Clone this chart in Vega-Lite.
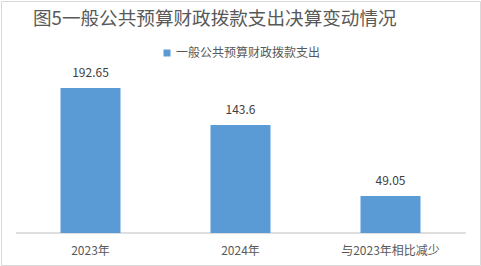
{
  "$schema": "https://vega.github.io/schema/vega-lite/v6.json",
  "width": 481,
  "height": 266,
  "autosize": {"type": "fit", "contains": "padding"},
  "padding": 1,
  "background": "white",
  "config": {
    "font": "Noto Sans CJK SC",
    "view": {"stroke": "#D9D9D9", "strokeWidth": 1}
  },
  "title": {
    "text": "图5一般公共预算财政拨款支出决算变动情况",
    "anchor": "start",
    "frame": "group",
    "orient": "top",
    "baseline": "top",
    "offset": -28,
    "dx": 32,
    "fontSize": 18.6,
    "fontWeight": "normal",
    "color": "#595959"
  },
  "data": {
    "values": [
      {"category": "2023年", "value": 192.65, "label": "192.65", "series": "一般公共预算财政拨款支出"},
      {"category": "2024年", "value": 143.6, "label": "143.6", "series": "一般公共预算财政拨款支出"},
      {"category": "与2023年相比减少", "value": 49.05, "label": "49.05", "series": "一般公共预算财政拨款支出"}
    ]
  },
  "encoding": {
    "x": {
      "field": "category",
      "type": "nominal",
      "sort": null,
      "scale": {"domain": ["2023年", "2024年", "与2023年相比减少"], "paddingInner": 0.6, "paddingOuter": 0.3967},
      "axis": {
        "title": null,
        "orient": "bottom",
        "domain": false,
        "ticks": false,
        "labelAngle": 0,
        "labelPadding": 0,
        "offset": -20,
        "labelFontSize": 12,
        "labelColor": "#595959"
      }
    }
  },
  "layer": [
    {
      "mark": {"type": "rule", "color": "#D9D9D9", "strokeWidth": 1},
      "encoding": {
        "y": {"datum": 0, "type": "quantitative", "scale": {"domain": [-42.51, 308.23], "nice": false, "zero": false}, "axis": null},
        "x": {"datum": "2023年", "bandPosition": -0.74},
        "x2": {"datum": "与2023年相比减少", "bandPosition": 1.75}
      }
    },
    {
      "mark": {"type": "bar"},
      "encoding": {
        "y": {"field": "value", "type": "quantitative", "stack": null},
        "y2": {"datum": 0},
        "color": {
          "field": "series",
          "type": "nominal",
          "scale": {"range": ["#5B9BD5"]},
          "legend": {
            "title": null,
            "orient": "none",
            "legendX": 160,
            "legendY": 46,
            "symbolType": "square",
            "symbolSize": 49,
            "symbolStrokeWidth": 0,
            "labelFontSize": 12,
            "labelColor": "#595959",
            "labelOffset": 3
          }
        }
      }
    },
    {
      "mark": {"type": "text", "baseline": "bottom", "dy": -8, "fontSize": 12, "color": "#404040"},
      "encoding": {
        "y": {"field": "value", "type": "quantitative"},
        "text": {"field": "label"}
      }
    }
  ],
  "resolve": {"scale": {"y": "shared"}}
}
